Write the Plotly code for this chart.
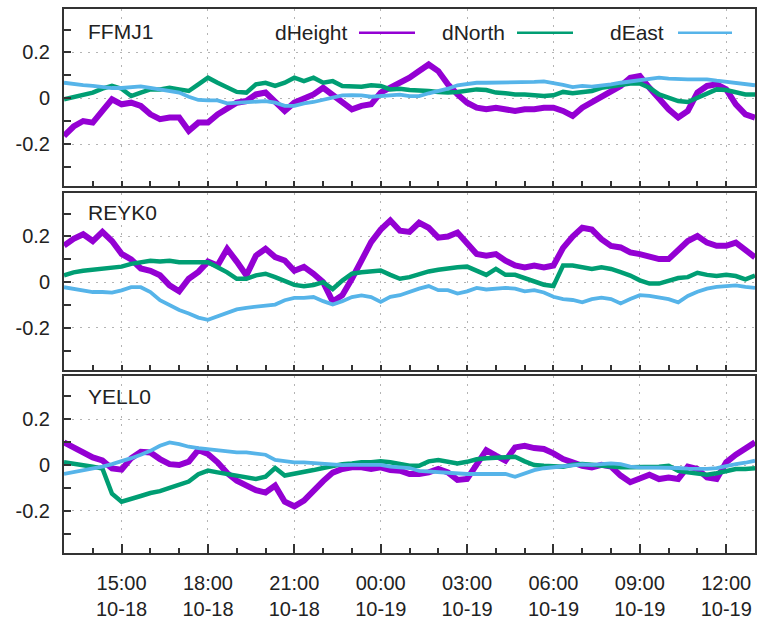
import pandas as pd
import plotly.graph_objects as go

# Sampling of the displacement series: every 20 minutes over one day
START = "2021-10-18 13:00"
STEP = "20min"
N_SAMPLES = 73
X_RANGE = ["2021-10-18 13:00", "2021-10-19 13:00"]

STATIONS = ["FFMJ1", "REYK0", "YELL0"]
SERIES_NAMES = ["dHeight", "dNorth", "dEast"]
COLORS = ["#9400d3", "#009e73", "#56b4e9"]

FFMJ1_HEIGHT = [
    -0.164, -0.123, -0.099, -0.106, -0.055, -0.004, -0.026, -0.019, -0.033, -0.070,
    -0.091, -0.084, -0.084, -0.142, -0.106, -0.106, -0.070, -0.041, -0.019, -0.012,
    0.017, 0.025, -0.012, -0.055, -0.019, -0.004, 0.017, 0.046, 0.017, -0.019,
    -0.048, -0.033, -0.026, 0.025, 0.046, 0.068, 0.090,
    0.119, 0.148, 0.119, 0.061, 0.017, -0.019, -0.041, -0.048, -0.041, -0.048,
    -0.055, -0.048, -0.048, -0.041, -0.041, -0.055, -0.077, -0.041, -0.019, 0.010,
    0.032, 0.054, 0.090, 0.097, 0.046, -0.004, -0.048, -0.084, -0.055, 0.025,
    0.054, 0.061, 0.039, -0.026, -0.070, -0.084,
]
FFMJ1_NORTH = [
    -0.004, 0.007, 0.017, 0.025, 0.042, 0.054, 0.042, 0.010, 0.025, 0.039,
    0.039, 0.046, 0.039, 0.032, 0.061, 0.090, 0.068, 0.046, 0.028, 0.025,
    0.061, 0.068, 0.054, 0.068, 0.090, 0.075, 0.090, 0.068, 0.075, 0.054,
    0.054, 0.051, 0.057, 0.054, 0.039, 0.042, 0.036,
    0.036, 0.032, 0.028, 0.025, 0.028, 0.036, 0.039, 0.036, 0.025, 0.022,
    0.017, 0.017, 0.013, 0.010, 0.013, 0.028, 0.022, 0.025, 0.032, 0.046,
    0.054, 0.061, 0.065, 0.065, 0.046, 0.017, 0.003, -0.012, -0.016, 0.003,
    0.025, 0.039, 0.036, 0.025, 0.017, 0.017,
]
FFMJ1_EAST = [
    0.068, 0.065, 0.058, 0.054, 0.049, 0.045, 0.045, 0.049, 0.052, 0.046,
    0.039, 0.032, 0.025, 0.007, -0.007, -0.009, -0.009, -0.022, -0.019, -0.016,
    -0.012, -0.012, -0.019, -0.033, -0.033, -0.022, -0.016, -0.007, 0.003, 0.013,
    0.014, 0.013, 0.007, 0.010, 0.013, 0.016, 0.010,
    0.010, 0.022, 0.032, 0.042, 0.057, 0.062, 0.068, 0.068, 0.068, 0.068,
    0.071, 0.071, 0.072, 0.074, 0.068, 0.059, 0.049, 0.054, 0.051, 0.054,
    0.061, 0.068, 0.074, 0.080, 0.088, 0.090, 0.086, 0.083, 0.083, 0.083,
    0.083, 0.077, 0.071, 0.068, 0.062, 0.057,
]

REYK0_HEIGHT = [
    0.160, 0.190, 0.210, 0.180, 0.220, 0.180, 0.124, 0.100, 0.060, 0.050,
    0.030, -0.014, -0.040, 0.015, 0.045, 0.090, 0.073, 0.146, 0.090, 0.030,
    0.116, 0.146, 0.110, 0.095, 0.050, 0.067, 0.037, 0.000, -0.085, -0.057,
    0.015, 0.090, 0.175, 0.230, 0.270, 0.225, 0.220,
    0.260, 0.238, 0.195, 0.200, 0.217, 0.173, 0.123, 0.116, 0.123, 0.094,
    0.073, 0.065, 0.073, 0.065, 0.073, 0.150, 0.200, 0.238, 0.230, 0.188,
    0.159, 0.152, 0.130, 0.123, 0.109, 0.101, 0.101, 0.145, 0.180, 0.202,
    0.173, 0.159, 0.159, 0.173, 0.137, 0.109,
]
REYK0_NORTH = [
    0.030, 0.043, 0.050, 0.054, 0.060, 0.066, 0.068, 0.080, 0.087, 0.094,
    0.090, 0.094, 0.087, 0.087, 0.090, 0.087, 0.065, 0.043, 0.015, 0.015,
    0.030, 0.037, 0.022, 0.007, -0.012, -0.018, -0.012, 0.000, -0.030, 0.007,
    0.037, 0.043, 0.045, 0.051, 0.032, 0.015, 0.022,
    0.037, 0.047, 0.054, 0.061, 0.065, 0.068, 0.051, 0.032, 0.058, 0.032,
    0.032, 0.018, 0.008, -0.011, -0.017, 0.073, 0.073, 0.065, 0.058, 0.065,
    0.058, 0.044, 0.029, 0.008, -0.006, -0.006, 0.008, 0.018, 0.022, 0.041,
    0.032, 0.027, 0.032, 0.027, 0.012, 0.029,
]
REYK0_EAST = [
    -0.022, -0.029, -0.036, -0.043, -0.043, -0.046, -0.036, -0.022, -0.022, -0.043,
    -0.079, -0.100, -0.122, -0.137, -0.155, -0.165, -0.151, -0.134, -0.119, -0.112,
    -0.108, -0.105, -0.098, -0.079, -0.069, -0.069, -0.065, -0.083, -0.098, -0.083,
    -0.065, -0.058, -0.065, -0.086, -0.064, -0.057, -0.042,
    -0.028, -0.017, -0.035, -0.035, -0.050, -0.040, -0.025, -0.032, -0.028, -0.025,
    -0.028, -0.040, -0.035, -0.045, -0.064, -0.074, -0.078, -0.088, -0.074, -0.068,
    -0.074, -0.093, -0.074, -0.057, -0.060, -0.068, -0.074, -0.088, -0.060, -0.042,
    -0.028, -0.021, -0.017, -0.014, -0.021, -0.025,
]

YELL0_HEIGHT = [
    0.099, 0.077, 0.055, 0.033, 0.020, -0.015, -0.020, 0.030, 0.058, 0.055,
    0.026, 0.004, 0.000, 0.015, 0.066, 0.048, 0.012, -0.035, -0.068, -0.090,
    -0.110, -0.120, -0.090, -0.160, -0.180, -0.155, -0.110, -0.070, -0.033, -0.017,
    -0.010, -0.010, -0.017, -0.010, -0.022, -0.025, -0.039,
    -0.039, -0.032, -0.017, -0.032, -0.065, -0.061, 0.004, 0.065, 0.041, 0.019,
    0.077, 0.084, 0.074, 0.070, 0.051, 0.026, 0.012, -0.003, -0.010, 0.001,
    -0.007, -0.046, -0.075, -0.061, -0.042, -0.061, -0.054, -0.061, -0.007, -0.017,
    -0.054, -0.061, 0.012, 0.045, 0.070, 0.099,
]
YELL0_NORTH = [
    0.012, 0.007, 0.001, -0.007, -0.015, -0.125, -0.160, -0.145, -0.135, -0.122,
    -0.114, -0.100, -0.088, -0.072, -0.040, -0.024, -0.032, -0.039, -0.051, -0.058,
    -0.061, -0.051, -0.013, -0.046, -0.039, -0.032, -0.022, -0.013, -0.003, 0.004,
    0.007, 0.012, 0.012, 0.016, 0.012, 0.004, -0.003,
    -0.003, 0.016, 0.022, 0.014, 0.007, 0.014, 0.025, 0.030, 0.033, 0.033,
    0.036, 0.016, 0.000, -0.003, -0.003, -0.007, 0.001, 0.004, 0.001, -0.003,
    -0.007, -0.010, -0.010, -0.010, -0.010, -0.007, -0.003, -0.025, -0.032, -0.039,
    -0.042, -0.036, -0.025, -0.017, -0.017, -0.014,
]
YELL0_EAST = [
    -0.039, -0.032, -0.025, -0.017, -0.007, 0.004, 0.016, 0.030, 0.045, 0.062,
    0.084, 0.099, 0.091, 0.080, 0.074, 0.070, 0.062, 0.059, 0.055, 0.055,
    0.051, 0.045, 0.022, 0.016, 0.012, 0.012, 0.009, 0.004, 0.001, 0.000,
    0.001, 0.001, 0.001, 0.001, -0.007, -0.010, -0.013,
    -0.025, -0.028, -0.032, -0.036, -0.039, -0.039, -0.039, -0.038, -0.038, -0.039,
    -0.051, -0.036, -0.022, -0.014, -0.010, -0.004, 0.001, 0.003, 0.001, 0.004,
    0.007, 0.004, -0.007, -0.010, -0.010, -0.010, -0.010, -0.013, -0.016, -0.017,
    -0.017, -0.013, -0.003, 0.004, 0.010, 0.019,
]

TICK_TIMES = [
    "2021-10-18 15:00", "2021-10-18 18:00", "2021-10-18 21:00", "2021-10-19 00:00",
    "2021-10-19 03:00", "2021-10-19 06:00", "2021-10-19 09:00", "2021-10-19 12:00",
]
TICK_LABELS = [
    "15:00<br>10-18", "18:00<br>10-18", "21:00<br>10-18", "00:00<br>10-19",
    "03:00<br>10-19", "06:00<br>10-19", "09:00<br>10-19", "12:00<br>10-19",
]
Y_TICKS = [-0.2, 0.0, 0.2]
Y_TICK_LABELS = ["-0.2", "0", "0.2"]

DATA = {
    "FFMJ1": [FFMJ1_HEIGHT, FFMJ1_NORTH, FFMJ1_EAST],
    "REYK0": [REYK0_HEIGHT, REYK0_NORTH, REYK0_EAST],
    "YELL0": [YELL0_HEIGHT, YELL0_NORTH, YELL0_EAST],
}

W, H = 757, 620
FONT = "Liberation Sans, Arial, sans-serif"
TEXT = "#222222"
AXIS = "#333333"
LINE_WIDTHS = [6, 4.5, 3.8]

# Panel geometry in pixels (left/right, and top/bottom per panel)
X_LEFT, X_RIGHT = 64, 755
PANEL_Y = [(9, 187), (194, 371.5), (377.5, 555.5)]


def px_x(px):
    return px / W


def px_y(py):
    return 1 - py / H


times = pd.date_range(START, periods=N_SAMPLES, freq=STEP)

fig = go.Figure()
layout = {}
for i, station in enumerate(STATIONS):
    suffix = "" if i == 0 else str(i + 1)
    for name, values, color, lw in zip(SERIES_NAMES, DATA[station], COLORS, LINE_WIDTHS):
        fig.add_trace(go.Scatter(
            x=times, y=values, mode="lines", name=name, showlegend=False,
            line=dict(color=color, width=lw),
            xaxis="x" + suffix, yaxis="y" + suffix,
        ))
    top, bottom = PANEL_Y[i]
    last = i == len(STATIONS) - 1
    layout["xaxis" + suffix] = dict(
        domain=[px_x(X_LEFT), px_x(X_RIGHT)], anchor="y" + suffix,
        type="date", range=X_RANGE,
        tickmode="array", tickvals=TICK_TIMES,
        ticktext=TICK_LABELS if last else [""] * len(TICK_TIMES),
        showticklabels=last,
        ticks="inside", ticklen=9, tickwidth=1.5, tickcolor=AXIS,
        ticklabelstandoff=11,
        minor=dict(ticks="inside", ticklen=5, tickwidth=1.5, tickcolor=AXIS,
                   dtick=3600000, tick0="2021-10-18 13:00", showgrid=False),
        showgrid=True, gridcolor="#b4b4b4", gridwidth=1, griddash="2px,6px",
        showline=True, linecolor=AXIS, linewidth=2, mirror=True,
        zeroline=False,
        tickfont=dict(family=FONT, size=20, color=TEXT),
    )
    layout["yaxis" + suffix] = dict(
        domain=[px_y(bottom), px_y(top)], anchor="x" + suffix,
        range=[-0.383, 0.39],
        tickmode="array", tickvals=Y_TICKS, ticktext=Y_TICK_LABELS,
        ticks="inside", ticklen=7, tickwidth=1.5, tickcolor=AXIS,
        ticklabelstandoff=8,
        minor=dict(ticks="inside", ticklen=7, tickwidth=1.5, tickcolor=AXIS,
                   dtick=0.1, tick0=0, showgrid=False),
        showgrid=True, gridcolor="#b4b4b4", gridwidth=1, griddash="2px,6px",
        showline=True, linecolor=AXIS, linewidth=2, mirror=True,
        zeroline=False,
        tickfont=dict(family=FONT, size=20, color=TEXT),
    )

# Station names inside each panel
TITLE_Y = [32, 214, 398.5]
annotations = []
for station, ty in zip(STATIONS, TITLE_Y):
    annotations.append(dict(
        text=station, xref="paper", yref="paper", x=px_x(86), y=px_y(ty),
        xanchor="left", yanchor="middle", showarrow=False,
        font=dict(family=FONT, size=21, color=TEXT),
    ))

# Key in the first panel: label followed by a line sample
KEY_TEXT_RIGHT = [350, 507, 666]
KEY_LINE = [(359, 415), (517, 573), (678, 732)]
KEY_Y = 33
shapes = []
for name, color, xr, (x0, x1) in zip(SERIES_NAMES, COLORS, KEY_TEXT_RIGHT, KEY_LINE):
    annotations.append(dict(
        text=name, xref="paper", yref="paper", x=px_x(xr), y=px_y(KEY_Y),
        xanchor="right", yanchor="middle", showarrow=False,
        font=dict(family=FONT, size=21, color=TEXT),
    ))
    shapes.append(dict(
        type="line", xref="paper", yref="paper",
        x0=px_x(x0), x1=px_x(x1), y0=px_y(KEY_Y), y1=px_y(KEY_Y),
        line=dict(color=color, width=2.5),
    ))

fig.update_layout(
    width=W, height=H,
    margin=dict(l=0, r=0, t=0, b=0),
    paper_bgcolor="white", plot_bgcolor="white",
    showlegend=False,
    annotations=annotations, shapes=shapes,
    **layout,
)

fig.write_html("out.html")
